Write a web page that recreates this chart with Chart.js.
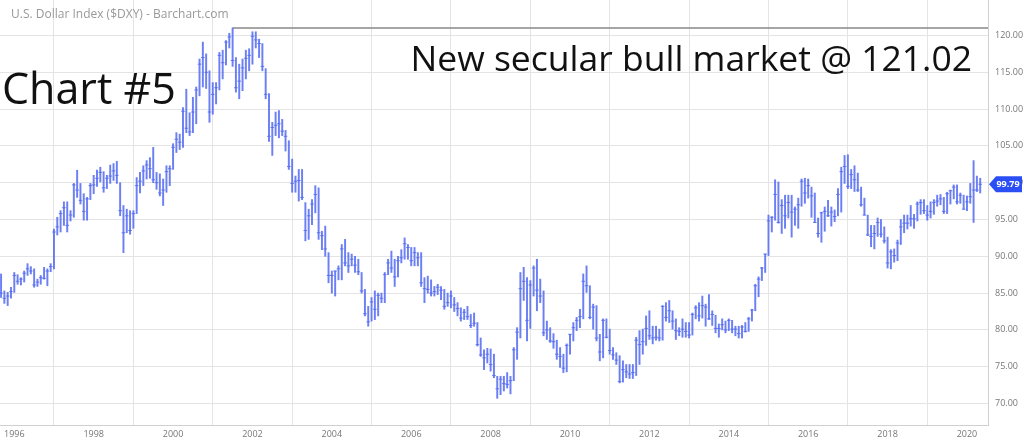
<!DOCTYPE html>
<html>
<head>
<meta charset="utf-8">
<script src="https://cdn.jsdelivr.net/npm/chart.js@4.4.1/dist/chart.umd.min.js"></script>
<style>
  html, body { margin: 0; padding: 0; background: #fff; }
  #wrap { position: relative; width: 1024px; height: 443px; }
</style>
</head>
<body>
<div id="wrap"><canvas id="chart-1"></canvas></div>
<script>
// monthly bars, first one is Sep 1995
const startYear = 1995;
const startMonth = 8; // 0 = Jan

const highs = [
  87.6, 85.3, 85.1, 85.8, // 1995
  87.8, 87.5, 87.1, 88.0, 89.0, 88.6, 88.3, 86.9, 87.4, 88.5, 88.3, 89.0,
  93.7, 95.3, 96.2, 97.4, 97.4, 96.2, 99.9, 101.7, 99.9, 98.5, 98.0, 99.9,
  101.0, 101.7, 102.1, 101.5, 101.0, 102.4, 102.6, 102.9, 100.0, 96.9, 96.4, 96.2,
  96.2, 100.7, 101.4, 102.3, 103.0, 103.4, 104.8, 101.4, 101.2, 100.5, 102.3, 102.3,
  105.3, 106.8, 106.6, 110.2, 112.7, 109.5, 111.6, 113.0, 116.8, 119.1, 117.5, 115.2, // 2000
  113.6, 113.6, 117.7, 118.0, 119.3, 120.3, 121.02, 117.0, 116.1, 116.8, 118.0, 118.2,
  120.5, 120.5, 119.5, 118.9, 115.5, 112.1, 108.2, 109.6, 109.8, 108.6, 107.1, 105.7,
  103.2, 100.9, 101.8, 101.8, 97.3, 96.4, 97.7, 99.6, 99.3, 93.4, 94.1, 90.5,
  88.0, 88.0, 88.7, 91.6, 92.3, 90.5, 90.3, 90.0, 89.6, 87.8, 85.5, 83.2,
  84.4, 85.3, 85.0, 85.0, 87.8, 89.6, 90.7, 89.6, 90.0, 90.9, 92.5, 91.6, // 2005
  91.2, 91.2, 90.5, 90.5, 87.1, 87.3, 86.8, 85.9, 86.2, 85.9, 85.5, 85.0,
  85.3, 84.4, 83.7, 83.0, 82.8, 83.2, 82.1, 82.3, 81.0, 78.9, 77.3, 77.5,
  77.4, 76.7, 73.7, 73.7, 73.7, 74.2, 73.7, 77.6, 80.3, 87.8, 88.5, 87.1,
  86.7, 88.7, 89.6, 86.9, 85.3, 81.2, 80.3, 79.5, 78.6, 77.6, 76.7, 78.1,
  79.4, 81.0, 81.7, 82.8, 87.6, 88.7, 86.0, 83.5, 83.3, 79.4, 81.5, 81.5, // 2010
  80.1, 77.6, 76.9, 76.5, 75.8, 75.3, 75.3, 75.3, 79.0, 79.9, 80.1, 81.9,
  82.6, 80.5, 80.5, 80.1, 83.3, 83.7, 84.0, 82.6, 81.5, 80.3, 81.5, 81.0,
  81.0, 82.3, 83.3, 83.7, 84.6, 83.5, 84.8, 82.6, 82.0, 80.8, 81.5, 81.2,
  81.5, 81.3, 80.5, 80.5, 80.6, 81.0, 81.7, 82.8, 86.2, 87.2, 88.5, 90.3,
  95.6, 95.4, 100.4, 100.1, 97.7, 98.3, 98.3, 98.3, 96.7, 97.9, 100.5, 100.6, // 2015
  100.5, 99.4, 98.6, 95.2, 96.0, 96.7, 97.6, 96.7, 96.3, 99.2, 102.1, 103.7,
  103.8, 101.8, 102.3, 101.3, 99.4, 97.9, 95.6, 94.2, 94.2, 95.2, 95.0, 94.0,
  92.6, 90.9, 91.0, 92.2, 95.0, 95.6, 95.6, 96.9, 95.7, 97.4, 97.7, 97.7,
  96.9, 97.4, 97.7, 98.3, 98.4, 98.0, 98.7, 99.0, 99.7, 99.7, 98.6, 98.3,
  98.2, 99.9, 103.0, 100.9, 100.6 // 2020
];

const lows = [
  84.4, 83.6, 83.3, 84.3,
  85.1, 86.2, 86.1, 86.5, 87.4, 87.6, 85.8, 85.9, 86.2, 86.9, 86.0, 87.9,
  88.3, 92.9, 93.3, 94.2, 93.3, 94.8, 95.3, 98.0, 97.1, 94.9, 94.9, 97.7,
  98.5, 99.5, 100.1, 98.7, 99.2, 99.9, 100.3, 99.9, 95.5, 90.5, 93.2, 93.0,
  93.8, 95.8, 98.6, 99.6, 100.5, 100.6, 100.0, 99.1, 98.2, 96.9, 98.7, 99.6,
  101.8, 104.1, 104.5, 104.8, 106.8, 106.4, 106.8, 108.0, 111.8, 113.0, 112.8, 108.2,
  109.3, 110.7, 112.6, 114.1, 116.0, 118.3, 115.8, 112.3, 111.4, 112.5, 114.1, 115.2,
  116.1, 118.3, 117.0, 115.2, 111.4, 105.6, 103.7, 106.4, 106.1, 106.4, 104.3, 101.8,
  98.7, 98.7, 97.5, 97.7, 92.1, 92.3, 94.3, 95.9, 92.3, 90.9, 90.0, 86.4,
  85.0, 84.6, 86.8, 86.8, 88.7, 87.8, 88.7, 87.8, 87.5, 85.0, 81.9, 80.5,
  81.2, 81.4, 81.9, 83.7, 83.7, 87.5, 87.8, 85.9, 87.2, 89.1, 89.6, 89.6,
  88.7, 88.7, 88.7, 85.9, 83.7, 85.0, 84.6, 84.6, 84.8, 84.1, 82.8, 83.2,
  83.0, 82.5, 81.9, 81.2, 81.4, 81.4, 80.3, 80.5, 77.8, 76.4, 74.6, 75.5,
  74.4, 73.5, 70.7, 71.2, 71.7, 72.1, 71.3, 73.1, 76.0, 78.9, 84.0, 78.5,
  80.2, 84.6, 82.6, 83.7, 79.2, 78.7, 78.3, 77.5, 76.0, 74.9, 74.2, 74.3,
  76.7, 78.5, 79.9, 80.3, 81.5, 85.1, 81.5, 80.1, 78.5, 75.8, 76.2, 78.9,
  76.7, 76.0, 75.3, 72.8, 72.9, 73.5, 73.4, 73.4, 73.8, 75.3, 76.7, 77.9,
  78.7, 78.1, 78.6, 78.5, 78.6, 81.2, 81.0, 80.1, 78.7, 79.2, 79.0, 79.0,
  78.9, 79.3, 81.5, 81.2, 81.6, 80.5, 81.4, 80.6, 79.6, 79.0, 80.0, 79.6,
  79.9, 79.6, 79.2, 78.9, 78.9, 79.7, 79.8, 81.2, 82.6, 84.5, 86.7, 87.8,
  90.1, 93.3, 94.9, 94.5, 93.1, 93.8, 95.2, 92.6, 94.2, 93.8, 96.8, 97.2,
  97.9, 95.3, 94.6, 92.6, 91.9, 93.4, 95.4, 94.1, 94.7, 95.5, 96.0, 99.9,
  99.2, 99.2, 98.8, 98.8, 96.8, 95.6, 92.8, 91.3, 91.0, 92.7, 92.6, 91.8,
  88.4, 88.3, 89.2, 89.4, 91.6, 93.2, 93.7, 94.1, 93.8, 94.8, 95.7, 95.8,
  94.9, 95.2, 95.7, 96.8, 97.0, 95.8, 95.8, 97.1, 97.8, 97.1, 97.2, 96.4,
  96.2, 97.2, 94.6, 98.8, 98.6
];

const closes = [
  85.0, 84.3, 84.6, 85.2,
  87.4, 86.6, 86.9, 87.7, 88.3, 88.0, 86.1, 86.5, 87.1, 87.0, 88.0, 88.6,
  93.3, 94.0, 95.8, 96.6, 94.2, 95.6, 99.7, 99.0, 97.6, 96.1, 97.8, 99.6,
  99.7, 100.6, 101.4, 99.3, 100.6, 100.9, 101.6, 101.0, 96.2, 93.2, 95.5, 93.5,
  95.8, 99.6, 100.2, 101.6, 102.4, 101.9, 100.4, 100.0, 98.6, 99.0, 101.5, 101.9,
  104.8, 105.9, 105.5, 109.7, 107.4, 106.9, 109.6, 112.6, 116.1, 117.0, 115.0, 109.6,
  112.0, 112.9, 117.3, 116.3, 119.1, 119.8, 116.6, 112.9, 113.8, 115.6, 116.9, 117.3,
  119.9, 119.4, 118.9, 115.8, 112.0, 106.3, 107.5, 107.8, 108.0, 107.0, 106.3, 102.2,
  99.9, 100.2, 100.3, 98.0, 93.5, 95.5, 97.1, 98.4, 93.2, 92.8, 91.0, 87.4,
  87.4, 88.0, 88.3, 91.0, 89.1, 88.7, 89.6, 88.8, 87.9, 85.3, 82.2, 81.1,
  83.8, 82.8, 84.7, 84.3, 87.5, 89.1, 88.4, 87.2, 89.4, 89.8, 91.7, 91.2,
  89.4, 90.5, 89.8, 86.4, 85.6, 85.5, 85.0, 85.2, 85.8, 85.4, 83.2, 83.7,
  84.6, 83.4, 82.9, 81.6, 82.4, 81.8, 80.6, 80.9, 78.0, 76.6, 76.2, 76.7,
  75.3, 73.8, 72.0, 73.3, 72.7, 72.6, 73.1, 77.3, 79.7, 85.6, 86.6, 81.3,
  86.1, 88.4, 85.4, 84.6, 79.6, 80.0, 78.5, 78.4, 76.7, 76.4, 74.8, 77.9,
  79.4, 80.3, 81.3, 81.8, 86.6, 86.0, 81.7, 83.1, 78.9, 77.0, 81.3, 79.0,
  77.2, 76.6, 75.9, 73.0, 74.6, 74.3, 74.0, 74.2, 78.6, 78.0, 78.4, 80.2,
  79.2, 78.9, 79.0, 78.9, 83.2, 81.7, 82.6, 81.2, 79.9, 79.8, 80.1, 79.8,
  79.3, 82.1, 83.0, 81.9, 83.3, 83.1, 81.5, 82.1, 80.2, 80.2, 80.7, 80.0,
  81.3, 80.1, 80.1, 79.5, 80.4, 79.8, 81.5, 82.7, 86.0, 86.9, 88.4, 90.3,
  94.8, 95.3, 98.4, 94.6, 96.9, 95.5, 97.3, 96.0, 96.4, 97.0, 100.2, 98.6,
  99.6, 98.2, 94.6, 93.1, 95.9, 96.1, 95.5, 96.0, 95.4, 98.4, 101.5, 102.2,
  99.5, 101.1, 100.4, 99.0, 97.0, 95.6, 92.9, 92.7, 93.1, 94.6, 93.0, 92.1,
  89.1, 90.6, 90.1, 91.8, 94.0, 94.5, 94.5, 95.1, 95.1, 97.1, 97.3, 96.2,
  95.6, 96.1, 97.3, 97.5, 97.8, 96.1, 98.5, 98.9, 99.4, 97.4, 98.3, 96.4,
  97.4, 98.1, 99.0, 99.0, 99.79
];

const yearTicks = [1996, 1998, 2000, 2002, 2004, 2006, 2008, 2010, 2012, 2014, 2016, 2018, 2020];
const priceTicks = [70, 75, 80, 85, 90, 95, 100, 105, 110, 115, 120];

const barColor = 'rgba(82,106,242,0.85)';
const gridColor = '#e4e4e4';

// x position of each month (in years)
const months = highs.map((h, i) => startYear + (startMonth + i) / 12);

const rangeData = months.map((m, i) => ({ x: m, y: [lows[i], highs[i]] }));
const closeData = months.map((m, i) => ({ x: m, y: closes[i] }));

// highest high -> horizontal line to the right edge
const peakIdx = highs.indexOf(Math.max(...highs));
const xMin = 1995.64, xMax = 2020.53;
const peakLine = [{ x: months[peakIdx], y: highs[peakIdx] }, { x: xMax, y: highs[peakIdx] }];

// no extra padding from tick labels, the plot uses the full area
function noPad(s) {
  s.paddingTop = 0;
  s.paddingBottom = 0;
  s.paddingLeft = 0;
  s.paddingRight = 0;
}

const overlayText = {
  id: 'overlayText',
  afterDraw(chart) {
    const c = chart.ctx;
    c.save();
    c.fillStyle = '#999';
    c.font = '12px "Open Sans"';
    c.textAlign = 'left';
    c.textBaseline = 'alphabetic';
    c.fillText('U.S. Dollar Index ($DXY) - Barchart.com', 11, 18);

    c.fillStyle = '#111';
    c.font = '43px "Open Sans"';
    c.fillText('Chart #5', 2, 104);

    c.font = '35.5px "Open Sans"';
    c.textAlign = 'right';
    c.fillText('New secular bull market @ 121.02', 972, 71);

    // last price tag on the right axis
    const last = closes[closes.length - 1];
    const y = chart.scales.y.getPixelForValue(last);
    const x0 = chart.chartArea.right + 1;
    c.fillStyle = '#2b4ff5';
    c.beginPath();
    c.moveTo(x0, y);
    c.lineTo(x0 + 7, y - 8);
    c.lineTo(x0 + 33, y - 8);
    c.lineTo(x0 + 33, y + 8);
    c.lineTo(x0 + 7, y + 8);
    c.closePath();
    c.fill();
    c.fillStyle = '#fff';
    c.font = 'bold 9px "Open Sans"';
    c.textAlign = 'center';
    c.textBaseline = 'middle';
    c.fillText(last.toFixed(2), x0 + 19, y + 0.5);
    c.restore();
  }
};

const ctx1 = document.getElementById('chart-1').getContext('2d');
const chart1 = new Chart(ctx1, {
  type: 'bar',
  data: {
    datasets: [
      {
        type: 'bar',
        data: rangeData,
        backgroundColor: barColor,
        barThickness: 1.3,
        grouped: false
      },
      {
        type: 'scatter',
        data: closeData,
        pointStyle: 'line',
        radius: 1.8,
        hoverRadius: 1.8,
        borderColor: barColor,
        borderWidth: 1
      },
      {
        type: 'line',
        data: peakLine,
        borderColor: '#888',
        borderWidth: 1.5,
        pointRadius: 0,
        pointHoverRadius: 0
      }
    ]
  },
  options: {
    responsive: true,
    maintainAspectRatio: false,
    animation: false,
    layout: { padding: 0, autoPadding: false },
    plugins: {
      legend: { display: false },
      tooltip: { enabled: false }
    },
    scales: {
      x: {
        type: 'linear',
        min: xMin,
        max: xMax,
        offset: false,
        afterBuildTicks: (s) => { s.ticks = yearTicks.map(v => ({ value: v })); },
        afterFit: (s) => { s.height = 18; noPad(s); },
        ticks: {
          callback: (v) => String(v),
          color: '#777',
          font: { family: 'Open Sans', size: 9 },
          padding: 4,
          maxRotation: 0,
          autoSkip: false
        },
        grid: { color: gridColor, drawTicks: false },
        border: { color: '#d0d0d0' }
      },
      y: {
        position: 'right',
        min: 67.08,
        max: 124.82,
        afterBuildTicks: (s) => { s.ticks = priceTicks.map(v => ({ value: v })); },
        afterFit: (s) => { s.width = 36; noPad(s); },
        ticks: {
          callback: (v) => v.toFixed(2),
          color: '#777',
          font: { family: 'Open Sans', size: 9 },
          padding: 7
        },
        grid: { color: gridColor, drawTicks: false },
        border: { color: '#d0d0d0' }
      }
    }
  },
  plugins: [overlayText]
});
</script>
</body>
</html>
